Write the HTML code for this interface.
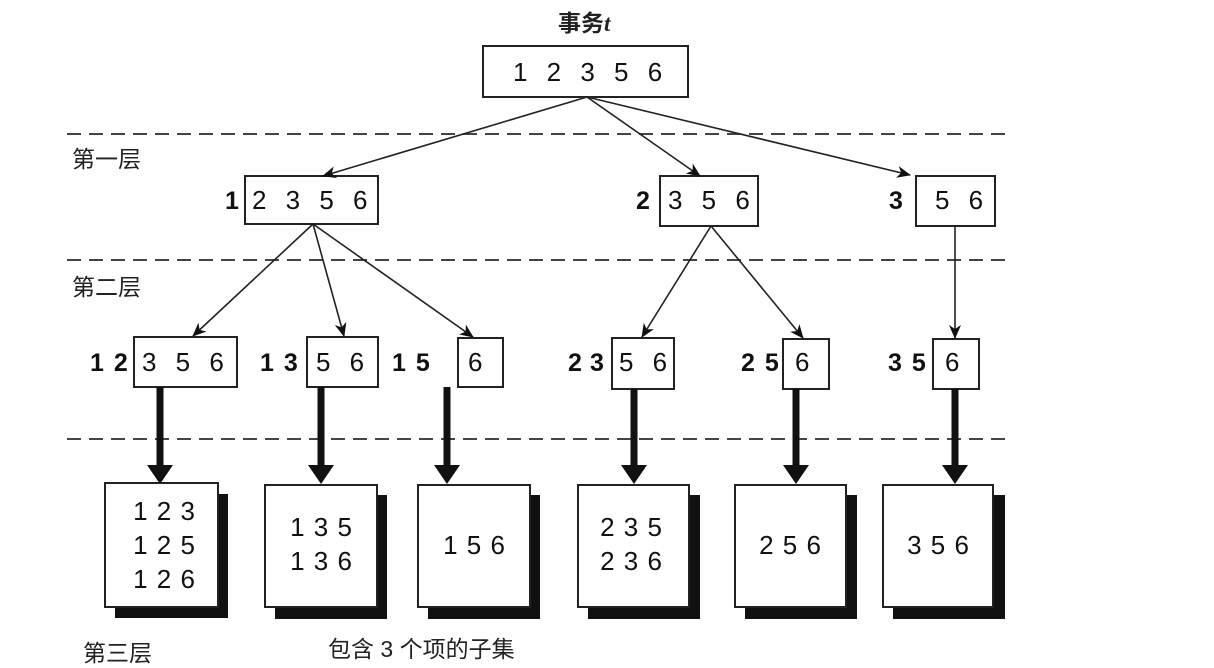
<!DOCTYPE html>
<html><head><meta charset="utf-8"><style>
html,body{margin:0;padding:0;background:#fff;}
svg{display:block;}
.n{font-family:"Liberation Sans",sans-serif;font-size:26px;fill:#111;word-spacing:12px;}
.b{font-family:"Liberation Sans",sans-serif;font-size:25px;font-weight:bold;fill:#111;word-spacing:3px;}
.c{font-family:"Liberation Sans","Noto Sans CJK SC",sans-serif;font-size:23px;fill:#222;}
</style></head><body>
<svg width="1214" height="668" viewBox="0 0 1214 668" xmlns="http://www.w3.org/2000/svg">
<defs>
<marker id="a" markerWidth="14" markerHeight="12" refX="13" refY="6" orient="auto" markerUnits="userSpaceOnUse">
<path d="M0,0 L14,6 L0,12 L4,6 z" fill="#111"/></marker>
</defs>
<g stroke="#444" stroke-width="2" stroke-dasharray="14,8">
<line x1="67" y1="134" x2="1005" y2="134"/>
<line x1="67" y1="260" x2="1005" y2="260"/>
<line x1="67" y1="439" x2="1005" y2="439"/>
</g>
<text class="c" x="72" y="167">第一层</text>
<text class="c" x="72" y="295">第二层</text>
<text class="c" x="83" y="661">第三层</text>
<text class="c" x="328" y="657">包含 3 个项的子集</text>
<text class="c" x="558" y="31" font-weight="bold">事务<tspan font-family="Liberation Serif" font-style="italic">t</tspan></text>
<g fill="#fff" stroke="#222" stroke-width="2">
<rect x="483" y="46" width="205" height="51"/>
<rect x="245" y="176" width="133" height="48"/>
<rect x="660" y="176" width="98" height="50"/>
<rect x="916" y="176" width="79" height="50"/>
<rect x="134" y="337" width="103" height="50"/>
<rect x="307" y="337" width="71" height="50"/>
<rect x="458" y="338" width="45" height="49"/>
<rect x="612" y="338" width="62" height="51"/>
<rect x="783" y="339" width="46" height="50"/>
<rect x="933" y="339" width="46" height="50"/>
</g>
<text class="n" x="513" y="81" word-spacing="15">1 2 3 5 6</text>
<text class="b" x="225" y="209">1</text><text class="n" x="252" y="209" word-spacing="15">2 3 5 6</text>
<text class="b" x="636" y="209">2</text><text class="n" x="668" y="209" word-spacing="15">3 5 6</text>
<text class="b" x="889" y="209">3</text><text class="n" x="935" y="209" word-spacing="15">5 6</text>
<text class="b" x="90" y="371">1 2</text><text class="n" x="142" y="371" word-spacing="16">3 5 6</text>
<text class="b" x="260" y="371">1 3</text><text class="n" x="316" y="371" word-spacing="16">5 6</text>
<text class="b" x="392" y="371">1 5</text><text class="n" x="468" y="371">6</text>
<text class="b" x="568" y="371">2</text><text class="b" x="590" y="371">3</text><text class="n" x="619" y="371" word-spacing="10">5 6</text>
<text class="b" x="741" y="371">2 5</text><text class="n" x="795" y="371">6</text>
<text class="b" x="888" y="371">3 5</text><text class="n" x="945" y="371">6</text>
<g stroke="#222" stroke-width="1.6" marker-end="url(#a)">
<line x1="587" y1="97" x2="323" y2="176"/>
<line x1="587" y1="97" x2="700" y2="176"/>
<line x1="587" y1="97" x2="910" y2="175"/>
<line x1="313" y1="224" x2="193" y2="336"/>
<line x1="313" y1="224" x2="344" y2="336"/>
<line x1="313" y1="224" x2="473" y2="337"/>
<line x1="711" y1="226" x2="642" y2="337"/>
<line x1="711" y1="226" x2="803" y2="338"/>
<line x1="955" y1="226" x2="955" y2="338"/>
</g>
<g fill="#111">
<g transform="translate(160,0)"><rect x="-3.5" y="387" width="7" height="78"/><path d="M-13,465 L13,465 L0,484 z"/></g>
<g transform="translate(321,0)"><rect x="-3.5" y="387" width="7" height="78"/><path d="M-13,465 L13,465 L0,484 z"/></g>
<g transform="translate(447,0)"><rect x="-3.5" y="387" width="7" height="78"/><path d="M-13,465 L13,465 L0,484 z"/></g>
<g transform="translate(634,0)"><rect x="-3.5" y="389" width="7" height="76"/><path d="M-13,465 L13,465 L0,484 z"/></g>
<g transform="translate(796,0)"><rect x="-3.5" y="389" width="7" height="76"/><path d="M-13,465 L13,465 L0,484 z"/></g>
<g transform="translate(955,0)"><rect x="-3.5" y="389" width="7" height="76"/><path d="M-13,465 L13,465 L0,484 z"/></g>
</g>
<g>
<rect x="115" y="494" width="113" height="124" fill="#111"/>
<rect x="275" y="495" width="112" height="124" fill="#111"/>
<rect x="428" y="495" width="112" height="124" fill="#111"/>
<rect x="588" y="495" width="112" height="124" fill="#111"/>
<rect x="745" y="495" width="112" height="124" fill="#111"/>
<rect x="893" y="495" width="112" height="124" fill="#111"/>
</g>
<g fill="#fff" stroke="#222" stroke-width="2">
<rect x="105" y="483" width="113" height="124"/>
<rect x="265" y="485" width="112" height="122"/>
<rect x="418" y="485" width="112" height="122"/>
<rect x="578" y="485" width="111" height="122"/>
<rect x="735" y="485" width="111" height="122"/>
<rect x="883" y="485" width="110" height="122"/>
</g>
<g class="n" text-anchor="middle" font-size="25" style="word-spacing:2px">
<text x="164" y="520">1 2 3</text><text x="164" y="554">1 2 5</text><text x="164" y="588">1 2 6</text>
<text x="321" y="536">1 3 5</text><text x="321" y="570">1 3 6</text>
<text x="474" y="554">1 5 6</text>
<text x="631" y="536">2 3 5</text><text x="631" y="570">2 3 6</text>
<text x="790" y="554">2 5 6</text>
<text x="938" y="554">3 5 6</text>
</g>
</svg>
</body></html>
